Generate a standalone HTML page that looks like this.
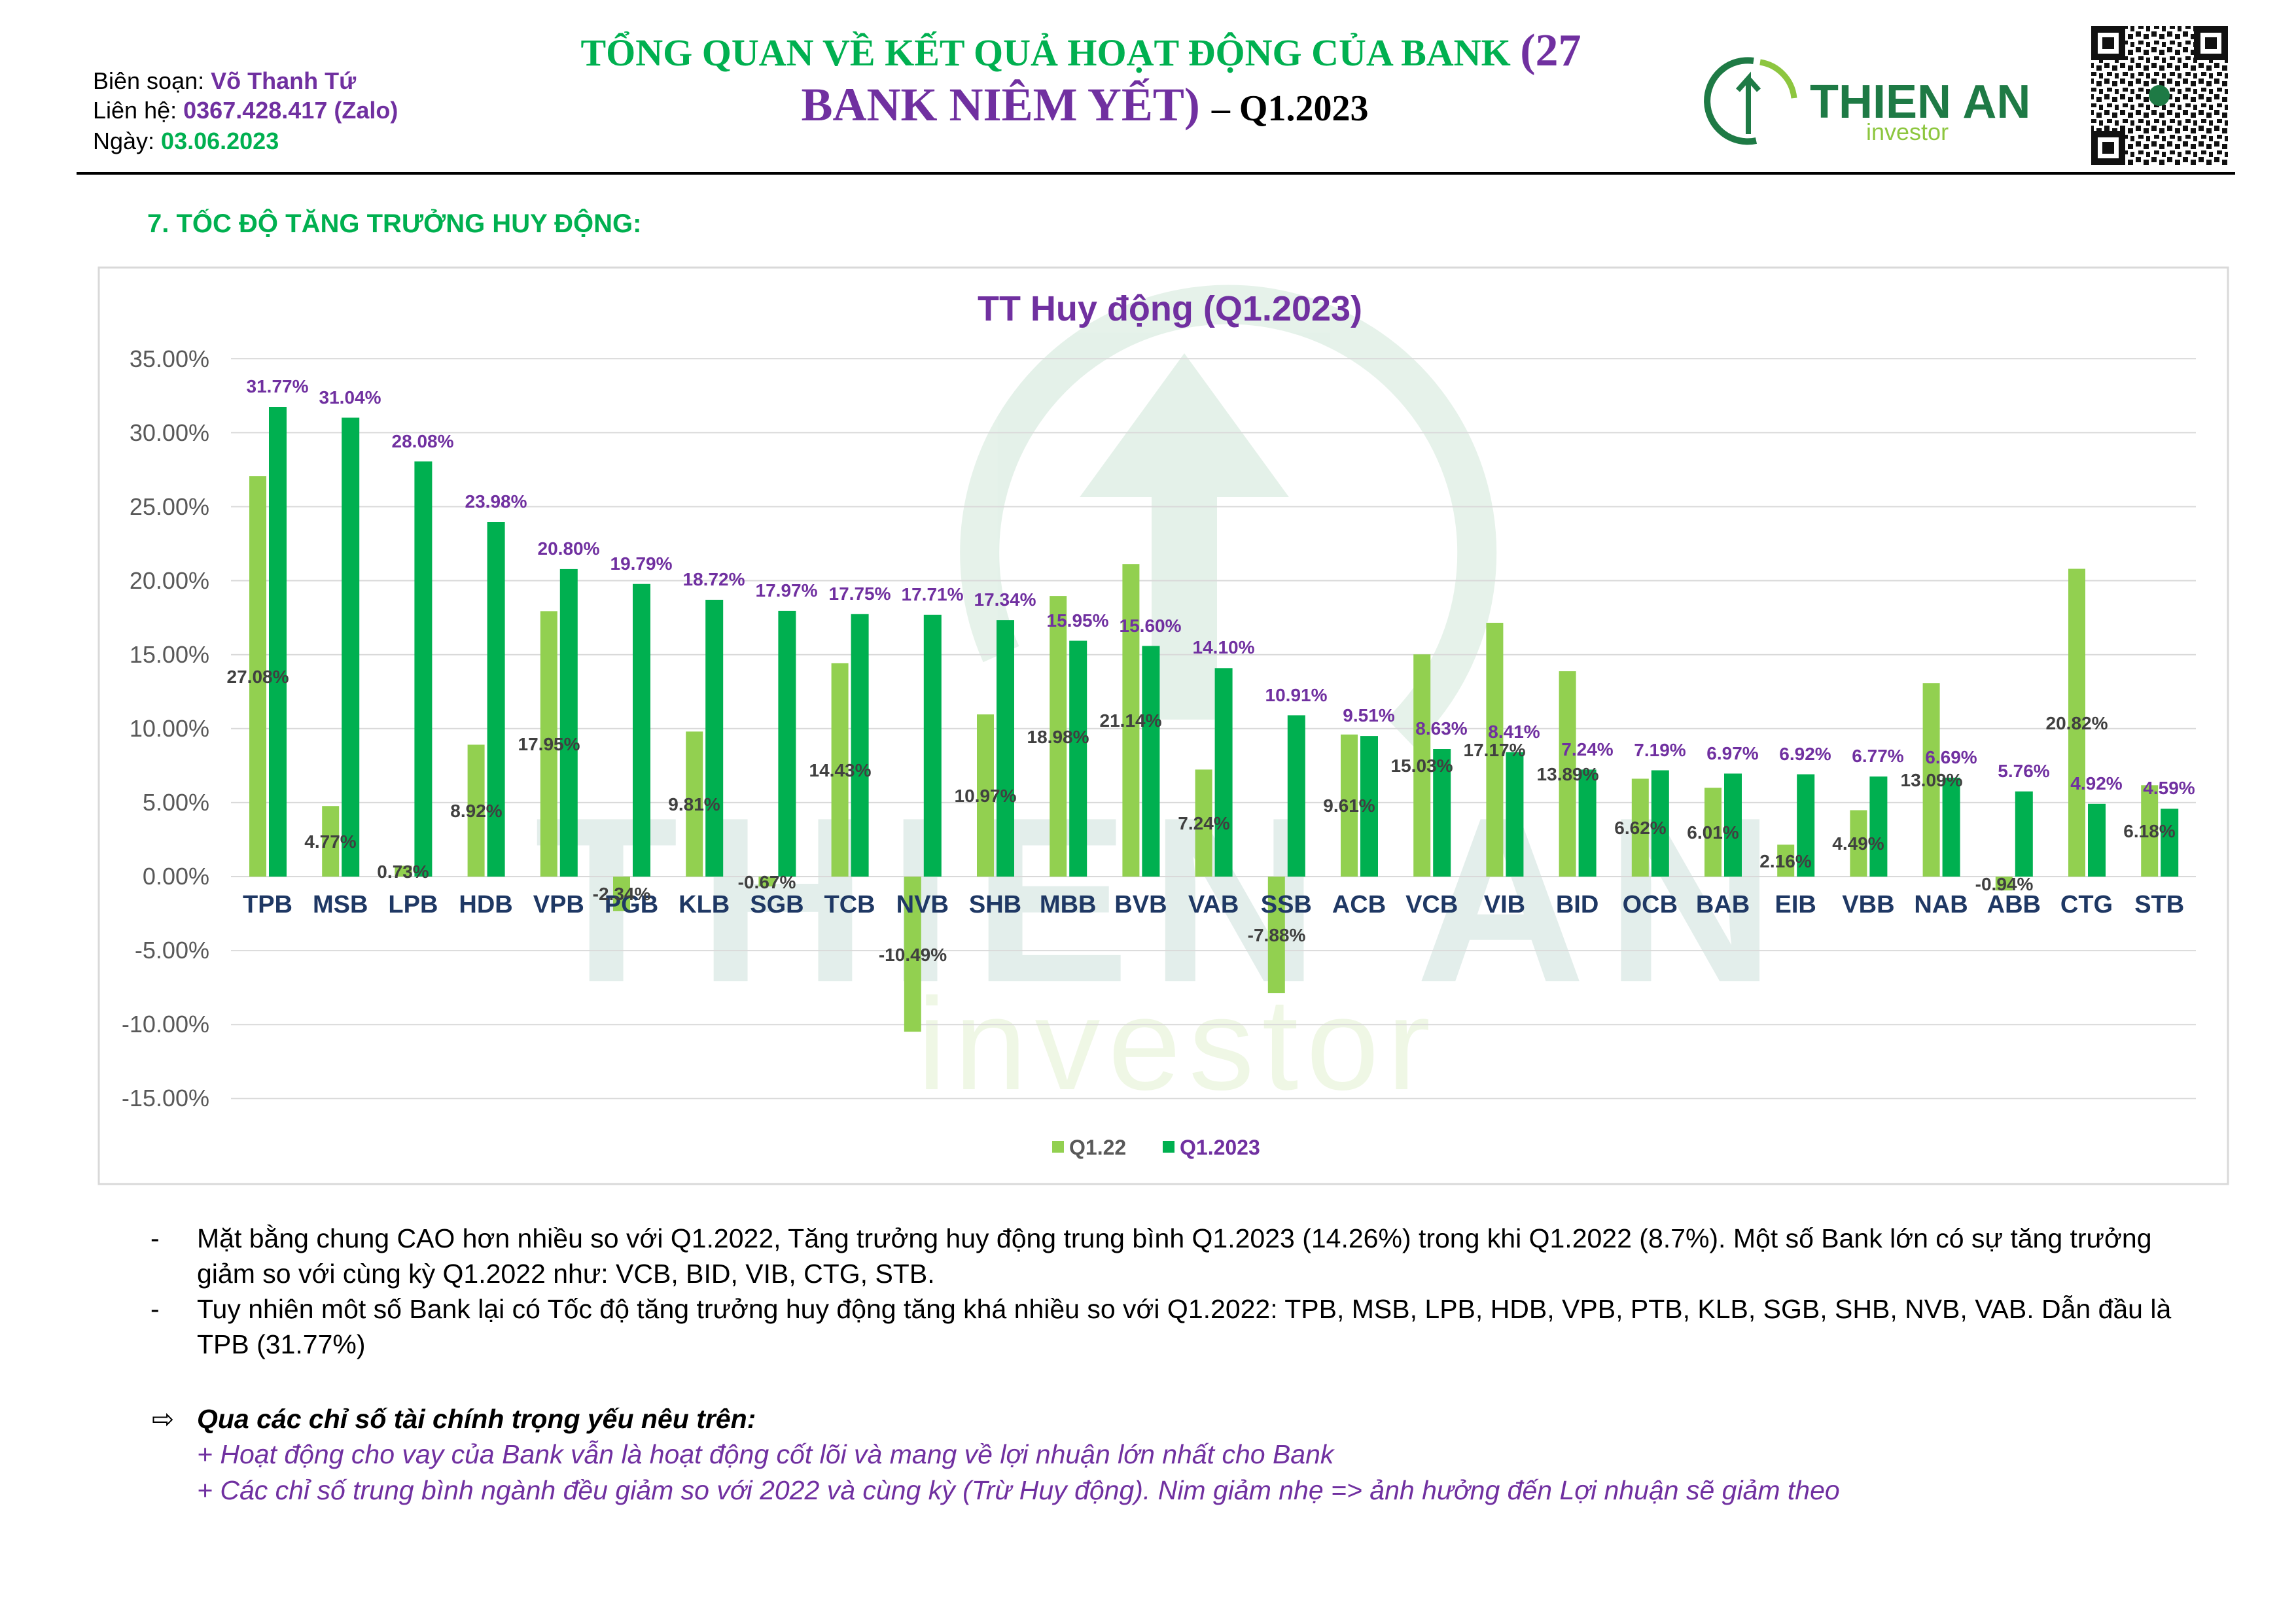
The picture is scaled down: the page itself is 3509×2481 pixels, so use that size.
<!DOCTYPE html>
<html><head><meta charset="utf-8">
<style>
html,body{margin:0;padding:0;background:#fff;}
body{width:3509px;height:2481px;position:relative;overflow:hidden;font-family:"Liberation Sans","DejaVu Sans",sans-serif;}
.abs{position:absolute;white-space:nowrap;}
</style></head><body>
<svg width="3509" height="2481" viewBox="0 0 3509 2481" xmlns="http://www.w3.org/2000/svg" style="position:absolute;left:0;top:0" font-family="Liberation Sans, DejaVu Sans, sans-serif">
<defs>
<pattern id="qr" width="24" height="24" patternUnits="userSpaceOnUse">
<rect width="24" height="24" fill="#fff"/>
<rect x="0" y="0" width="8" height="8" fill="#111"/><rect x="12" y="4" width="8" height="8" fill="#111"/>
<rect x="4" y="14" width="8" height="6" fill="#111"/><rect x="16" y="16" width="6" height="8" fill="#111"/>
</pattern>
</defs>
<text x="142" y="136" font-size="36" fill="#000">Biên soạn: <tspan fill="#7030a0" font-weight="bold">Võ Thanh Tứ</tspan></text>
<text x="142" y="181" font-size="36" fill="#000">Liên hệ: <tspan fill="#7030a0" font-weight="bold">0367.428.417 (Zalo)</tspan></text>
<text x="142" y="228" font-size="36" fill="#000">Ngày: <tspan fill="#00b050" font-weight="bold">03.06.2023</tspan></text>
<text x="1652" y="100" font-size="58" text-anchor="middle" font-family="Liberation Serif, DejaVu Serif, serif" font-weight="bold" fill="#00b050">TỔNG QUAN VỀ KẾT QUẢ HOẠT ĐỘNG CỦA BANK <tspan fill="#7030a0" font-size="70">(27</tspan></text>
<text x="1658" y="184" font-size="72" text-anchor="middle" font-family="Liberation Serif, DejaVu Serif, serif" font-weight="bold" fill="#7030a0">BANK NIÊM YẾT) <tspan fill="#000" font-size="56">– Q1.2023</tspan></text>
<path d="M2680 93 A62 62 0 1 0 2684 215" fill="none" stroke="#1e7a45" stroke-width="10"/>
<path d="M2690 95 A62 62 0 0 1 2742 150" fill="none" stroke="#8dc63f" stroke-width="9"/>
<path d="M2672 205 L2672 120 L2656 138 M2672 120 L2688 138" fill="none" stroke="#1e7a45" stroke-width="8"/>
<text x="2766" y="180" font-size="72" font-weight="bold" fill="#1e7a45">THIEN AN</text>
<text x="2852" y="214" font-size="36" fill="#8dc63f">investor</text>
<rect x="3196" y="40" width="209" height="212" fill="url(#qr)"/>
<rect x="3196" y="40" width="52" height="52" fill="#111"/><rect x="3206" y="50" width="32" height="32" fill="#fff"/><rect x="3213" y="57" width="18" height="18" fill="#111"/>
<rect x="3353" y="40" width="52" height="52" fill="#111"/><rect x="3363" y="50" width="32" height="32" fill="#fff"/><rect x="3370" y="57" width="18" height="18" fill="#111"/>
<rect x="3196" y="200" width="52" height="52" fill="#111"/><rect x="3206" y="210" width="32" height="32" fill="#fff"/><rect x="3213" y="217" width="18" height="18" fill="#111"/>
<circle cx="3300" cy="146" r="16" fill="#1e7a45"/>
<rect x="117" y="263" width="3299" height="4" fill="#000"/>
<text x="225" y="355" font-size="40" font-weight="bold" fill="#00b050">7.   TỐC ĐỘ TĂNG TRƯỞNG HUY ĐỘNG:</text>
<rect x="151" y="409" width="3254" height="1401" fill="#fff" stroke="#d9d9d9" stroke-width="3"/>
<g opacity="0.13">
<path d="M1530 1000 A380 380 0 1 1 2140 1120" fill="none" stroke="#3a9a5a" stroke-width="60"/>
<path d="M1810 540 L1650 760 L1760 760 L1760 1100 L1860 1100 L1860 760 L1970 760 Z" fill="#3a9a5a"/>
<text x="1780" y="1500" font-size="360" font-weight="bold" text-anchor="middle" fill="#2f7f6a" letter-spacing="30">THIEN AN</text>
<text x="1800" y="1665" font-size="200" text-anchor="middle" fill="#8dc63f" letter-spacing="12">investor</text>
</g>
<text x="1788" y="490" font-size="54" font-weight="bold" text-anchor="middle" fill="#7030a0">TT Huy động (Q1.2023)</text>
<g stroke="#d9d9d9" stroke-width="2">
<line x1="353" x2="3356" y1="548.3" y2="548.3"/><line x1="353" x2="3356" y1="661.4" y2="661.4"/>
<line x1="353" x2="3356" y1="774.5" y2="774.5"/><line x1="353" x2="3356" y1="887.6" y2="887.6"/>
<line x1="353" x2="3356" y1="1000.7" y2="1000.7"/><line x1="353" x2="3356" y1="1113.8" y2="1113.8"/>
<line x1="353" x2="3356" y1="1226.9" y2="1226.9"/><line x1="353" x2="3356" y1="1340" y2="1340"/>
<line x1="353" x2="3356" y1="1453.1" y2="1453.1"/><line x1="353" x2="3356" y1="1566.2" y2="1566.2"/>
<line x1="353" x2="3356" y1="1679.3" y2="1679.3"/>
</g>
<g font-size="36" fill="#595959" text-anchor="end">
<text x="320" y="561">35.00%</text><text x="320" y="674">30.00%</text><text x="320" y="787">25.00%</text>
<text x="320" y="900">20.00%</text><text x="320" y="1013">15.00%</text><text x="320" y="1126">10.00%</text>
<text x="320" y="1239">5.00%</text><text x="320" y="1352">0.00%</text><text x="320" y="1465">-5.00%</text>
<text x="320" y="1578">-10.00%</text><text x="320" y="1691">-15.00%</text>
</g>
<g fill="#92d050">
<rect x="381" y="728" width="26" height="612"/>
<rect x="492.2" y="1232.2" width="26" height="107.8"/>
<rect x="603.4" y="1323.5" width="26" height="16.5"/>
<rect x="714.6" y="1138.4" width="26" height="201.6"/>
<rect x="825.8" y="934.3" width="26" height="405.7"/>
<rect x="937" y="1340" width="26" height="52.9"/>
<rect x="1048.2" y="1118.3" width="26" height="221.7"/>
<rect x="1159.4" y="1340" width="26" height="15.1"/>
<rect x="1270.6" y="1013.9" width="26" height="326.1"/>
<rect x="1381.8" y="1340" width="26" height="237.1"/>
<rect x="1493" y="1092.1" width="26" height="247.9"/>
<rect x="1604.2" y="911.1" width="26" height="428.9"/>
<rect x="1715.4" y="862.2" width="26" height="477.8"/>
<rect x="1826.6" y="1176.4" width="26" height="163.6"/>
<rect x="1937.8" y="1340" width="26" height="178.1"/>
<rect x="2049" y="1122.8" width="26" height="217.2"/>
<rect x="2160.2" y="1000.3" width="26" height="339.7"/>
<rect x="2271.4" y="952" width="26" height="388"/>
<rect x="2382.6" y="1026.1" width="26" height="313.9"/>
<rect x="2493.8" y="1190.4" width="26" height="149.6"/>
<rect x="2605" y="1204.2" width="26" height="135.8"/>
<rect x="2716.2" y="1291.2" width="26" height="48.8"/>
<rect x="2827.4" y="1238.5" width="26" height="101.5"/>
<rect x="2938.6" y="1044.2" width="26" height="295.8"/>
<rect x="3049.8" y="1340" width="26" height="21.2"/>
<rect x="3161" y="869.5" width="26" height="470.5"/>
<rect x="3272.2" y="1200.3" width="26" height="139.7"/>
</g>
<g fill="#00b050">
<rect x="411" y="622" width="27" height="718"/>
<rect x="522.2" y="638.5" width="27" height="701.5"/>
<rect x="633.4" y="705.4" width="27" height="634.6"/>
<rect x="744.6" y="798" width="27" height="542"/>
<rect x="855.8" y="869.9" width="27" height="470.1"/>
<rect x="967" y="892.7" width="27" height="447.3"/>
<rect x="1078.2" y="916.9" width="27" height="423.1"/>
<rect x="1189.4" y="933.9" width="27" height="406.1"/>
<rect x="1300.6" y="938.8" width="27" height="401.2"/>
<rect x="1411.8" y="939.8" width="27" height="400.2"/>
<rect x="1523" y="948.1" width="27" height="391.9"/>
<rect x="1634.2" y="979.5" width="27" height="360.5"/>
<rect x="1745.4" y="987.4" width="27" height="352.6"/>
<rect x="1856.6" y="1021.3" width="27" height="318.7"/>
<rect x="1967.8" y="1093.4" width="27" height="246.6"/>
<rect x="2079" y="1125.1" width="27" height="214.9"/>
<rect x="2190.2" y="1145" width="27" height="195"/>
<rect x="2301.4" y="1149.9" width="27" height="190.1"/>
<rect x="2412.6" y="1176.4" width="27" height="163.6"/>
<rect x="2523.8" y="1177.5" width="27" height="162.5"/>
<rect x="2635" y="1182.5" width="27" height="157.5"/>
<rect x="2746.2" y="1183.6" width="27" height="156.4"/>
<rect x="2857.4" y="1187" width="27" height="153"/>
<rect x="2968.6" y="1188.8" width="27" height="151.2"/>
<rect x="3079.8" y="1209.8" width="27" height="130.2"/>
<rect x="3191" y="1228.8" width="27" height="111.2"/>
<rect x="3302.2" y="1236.3" width="27" height="103.7"/>
</g>
<g font-size="38" font-weight="bold" fill="#1f3864" text-anchor="middle">
<text x="409" y="1395">TPB</text><text x="520.2" y="1395">MSB</text><text x="631.4" y="1395">LPB</text>
<text x="742.6" y="1395">HDB</text><text x="853.8" y="1395">VPB</text><text x="965" y="1395">PGB</text>
<text x="1076.2" y="1395">KLB</text><text x="1187.4" y="1395">SGB</text><text x="1298.6" y="1395">TCB</text>
<text x="1409.8" y="1395">NVB</text><text x="1521" y="1395">SHB</text><text x="1632.2" y="1395">MBB</text>
<text x="1743.4" y="1395">BVB</text><text x="1854.6" y="1395">VAB</text><text x="1965.8" y="1395">SSB</text>
<text x="2077" y="1395">ACB</text><text x="2188.2" y="1395">VCB</text><text x="2299.4" y="1395">VIB</text>
<text x="2410.6" y="1395">BID</text><text x="2521.8" y="1395">OCB</text><text x="2633" y="1395">BAB</text>
<text x="2744.2" y="1395">EIB</text><text x="2855.4" y="1395">VBB</text><text x="2966.6" y="1395">NAB</text>
<text x="3077.8" y="1395">ABB</text><text x="3189" y="1395">CTG</text><text x="3300.2" y="1395">STB</text>
</g>
<g font-size="28" font-weight="bold" fill="#404040" text-anchor="middle">
<text x="394" y="1044">27.08%</text><text x="505" y="1296">4.77%</text><text x="616" y="1342">0.73%</text>
<text x="728" y="1249">8.92%</text><text x="839" y="1147">17.95%</text><text x="950" y="1376">-2.34%</text>
<text x="1061" y="1239">9.81%</text><text x="1172" y="1358">-0.67%</text><text x="1284" y="1187">14.43%</text>
<text x="1395" y="1469">-10.49%</text><text x="1506" y="1226">10.97%</text><text x="1617" y="1136">18.98%</text>
<text x="1728" y="1111">21.14%</text><text x="1840" y="1268">7.24%</text><text x="1951" y="1439">-7.88%</text>
<text x="2062" y="1241">9.61%</text><text x="2173" y="1180">15.03%</text><text x="2284" y="1156">17.17%</text>
<text x="2396" y="1193">13.89%</text><text x="2507" y="1275">6.62%</text><text x="2618" y="1282">6.01%</text>
<text x="2729" y="1326">2.16%</text><text x="2840" y="1299">4.49%</text><text x="2952" y="1202">13.09%</text>
<text x="3063" y="1361">-0.94%</text><text x="3174" y="1115">20.82%</text><text x="3285" y="1280">6.18%</text>
</g>
<g font-size="28" font-weight="bold" fill="#7030a0" text-anchor="middle">
<text x="424" y="600">31.77%</text><text x="535" y="617">31.04%</text><text x="646" y="684">28.08%</text>
<text x="758" y="776">23.98%</text><text x="869" y="848">20.80%</text><text x="980" y="871">19.79%</text>
<text x="1091" y="895">18.72%</text><text x="1202" y="912">17.97%</text><text x="1314" y="917">17.75%</text>
<text x="1425" y="918">17.71%</text><text x="1536" y="926">17.34%</text><text x="1647" y="958">15.95%</text>
<text x="1758" y="966">15.60%</text><text x="1870" y="999">14.10%</text><text x="1981" y="1072">10.91%</text>
<text x="2092" y="1103">9.51%</text><text x="2203" y="1123">8.63%</text><text x="2314" y="1128">8.41%</text>
<text x="2426" y="1155">7.24%</text><text x="2537" y="1156">7.19%</text><text x="2648" y="1161">6.97%</text>
<text x="2759" y="1162">6.92%</text><text x="2870" y="1165">6.77%</text><text x="2982" y="1167">6.69%</text>
<text x="3093" y="1188">5.76%</text><text x="3204" y="1207">4.92%</text><text x="3315" y="1214">4.59%</text>
</g>
<rect x="1608" y="1744" width="18" height="18" fill="#92d050"/>
<text x="1634" y="1765" font-size="32" font-weight="bold" fill="#595959">Q1.22</text>
<rect x="1777" y="1744" width="18" height="18" fill="#00b050"/>
<text x="1803" y="1765" font-size="32" font-weight="bold" fill="#7030a0">Q1.2023</text>
<line x1="151" y1="1810" x2="3405" y2="1810" stroke="#d9d9d9" stroke-width="3"/>
</svg>
<div class="abs" style="left:230px;top:1866px;font-size:41px;line-height:54px;color:#000;">-</div>
<div class="abs" style="left:301px;top:1866px;width:3080px;white-space:normal;font-size:41px;line-height:54px;color:#000;">Mặt bằng chung CAO hơn nhiều so với Q1.2022, Tăng trưởng huy động trung bình Q1.2023 (14.26%) trong khi Q1.2022 (8.7%). Một số Bank lớn có sự tăng trưởng giảm so với cùng kỳ Q1.2022 như: VCB, BID, VIB, CTG, STB.</div>
<div class="abs" style="left:230px;top:1974px;font-size:41px;line-height:54px;color:#000;">-</div>
<div class="abs" style="left:301px;top:1974px;width:3080px;white-space:normal;font-size:41px;line-height:54px;color:#000;">Tuy nhiên môt số Bank lại có Tốc độ tăng trưởng huy động tăng khá nhiều so với Q1.2022: TPB, MSB, LPB, HDB, VPB, PTB, KLB, SGB, SHB, NVB, VAB. Dẫn đầu là TPB (31.77%)</div>
<div class="abs" style="left:232px;top:2142px;font-size:41px;line-height:54px;color:#000;">⇨</div>
<div class="abs" style="left:301px;top:2142px;font-size:41px;line-height:54px;color:#000;font-weight:bold;font-style:italic;">Qua các chỉ số tài chính trọng yếu nêu trên:</div>
<div class="abs" style="left:301px;top:2196px;font-size:41px;line-height:54px;color:#7030a0;font-style:italic;">+ Hoạt động cho vay của Bank vẫn là hoạt động cốt lõi và mang về lợi nhuận lớn nhất cho Bank</div>
<div class="abs" style="left:301px;top:2251px;font-size:41px;line-height:54px;color:#7030a0;font-style:italic;">+ Các chỉ số trung bình ngành đều giảm so với 2022 và cùng kỳ (Trừ Huy động). Nim giảm nhẹ =&gt; ảnh hưởng đến Lợi nhuận sẽ giảm theo</div>
</body></html>
